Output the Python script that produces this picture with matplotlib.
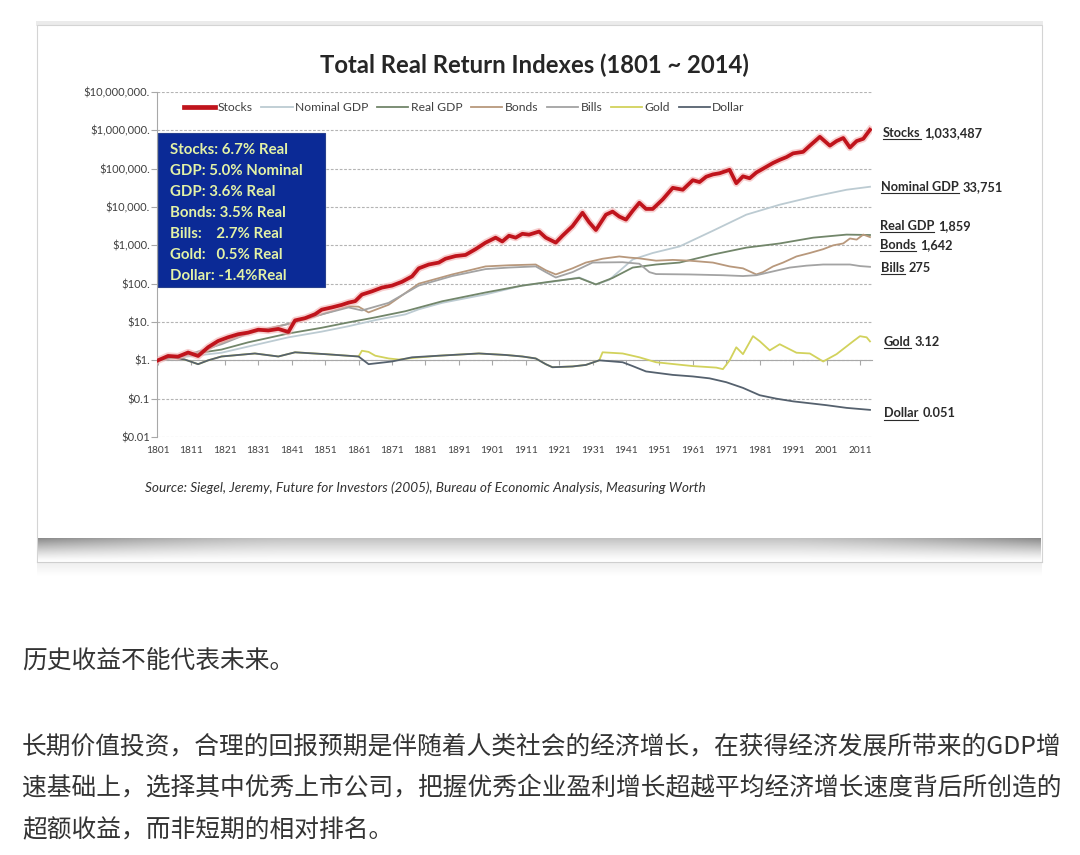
import numpy as np
import matplotlib
matplotlib.use('Agg')
import matplotlib.pyplot as plt
from matplotlib.patches import Rectangle
from matplotlib.lines import Line2D
import matplotlib.patheffects as pe
from matplotlib.ticker import NullLocator

W, H = 1080, 855

# ---------------- data ----------------
stocks_years = [1801, 1804, 1807, 1810, 1813, 1816, 1819, 1822, 1825, 1828, 1831, 1834, 1837, 1840,
                1842, 1845, 1848, 1850, 1853, 1856, 1858, 1860, 1862, 1865, 1868, 1871, 1874, 1877,
                1879, 1882, 1885, 1887, 1890, 1893, 1896, 1899, 1902, 1904, 1906, 1908, 1910, 1912,
                1915, 1917, 1920, 1922, 1925, 1928, 1930, 1932, 1935, 1937, 1939, 1941, 1943, 1945,
                1947, 1949, 1952, 1955, 1958, 1961, 1963, 1965, 1967, 1969, 1972, 1974, 1976, 1978,
                1980, 1983, 1985, 1987, 1989, 1991, 1994, 1996, 1999, 2002, 2004, 2006, 2008, 2010,
                2012, 2014]
stocks_values = [1.0, 1.3, 1.25, 1.6, 1.3, 2.2, 3.2, 4.0, 4.8, 5.3, 6.3, 6.0, 6.6, 5.5,
                 11, 12.6, 16, 21, 24, 28, 32, 35, 52, 63, 79, 89, 112, 155,
                 251, 316, 355, 447, 525, 562, 794, 1175, 1585, 1260, 1780, 1585, 2000, 1900,
                 2290, 1585, 1175, 1780, 3160, 7080, 3980, 2510, 6310, 7590, 5620, 4680, 7940, 12900,
                 8910, 8910, 15800, 31600, 28200, 50100, 44700, 61700, 70800, 75900, 93300, 41700, 63100, 56200,
                 79400, 112000, 141000, 170000, 200000, 251000, 275000, 398000, 676000, 398000, 525000, 631000, 355000, 525000,
                 603000, 1033487]

nominal_gdp_years = [1801, 1810, 1820, 1828, 1840, 1850, 1858, 1866, 1875, 1879, 1886, 1899, 1910,
                     1919, 1927, 1932, 1936, 1943, 1949, 1957, 1967, 1977, 1987, 1997, 2007, 2014]
nominal_gdp_values = [1, 1.26, 1.58, 2.29, 3.98, 5.62, 7.76, 11.2, 15.8, 21.4, 31.6, 52.5, 89.1,
                      112, 145, 95.5, 126, 427, 631, 933, 2400, 6310, 11500, 18600, 28200, 33751]

real_gdp_years = [1801, 1810, 1820, 1828, 1840, 1850, 1858, 1866, 1875, 1886, 1899, 1910, 1919,
                  1927, 1932, 1937, 1943, 1950, 1957, 1967, 1977, 1987, 1997, 2007, 2014]
real_gdp_values = [1, 1.41, 1.91, 2.95, 5.01, 7.08, 9.77, 13.2, 19.1, 34.7, 58.9, 89.1, 115,
                   141, 95.5, 141, 263, 316, 355, 575, 871, 1120, 1585, 1905, 1859]

bonds_years = [1801, 1805, 1810, 1815, 1820, 1828, 1835, 1840, 1850, 1858, 1861, 1864, 1870, 1879,
               1889, 1899, 1906, 1914, 1917, 1920, 1925, 1929, 1934, 1939, 1942, 1945, 1950, 1955,
               1960, 1967, 1972, 1976, 1980, 1982, 1985, 1988, 1992, 1996, 2000, 2003, 2006, 2008,
               2010, 2012, 2014]
bonds_values = [1, 1.26, 1.41, 1.78, 2.82, 5.25, 7.08, 8.91, 15.8, 25.7, 25.1, 17.8, 28.2, 100,
                174, 282, 302, 316, 224, 174, 251, 355, 447, 513, 479, 457, 398, 417,
                398, 355, 282, 251, 174, 200, 282, 355, 513, 631, 794, 1000, 1120, 1510,
                1410, 1905, 1642]

bills_years = [1801, 1810, 1820, 1828, 1840, 1850, 1858, 1862, 1870, 1879, 1889, 1899, 1906, 1914,
               1917, 1920, 1925, 1931, 1940, 1945, 1948, 1950, 1960, 1970, 1976, 1980, 1985, 1990,
               1995, 2000, 2005, 2008, 2011, 2014]
bills_values = [1, 1.41, 2.63, 5.01, 8.91, 15.8, 24.0, 20.0, 31.6, 89.1, 158, 240, 263, 282,
                200, 145, 200, 355, 363, 331, 200, 178, 174, 166, 158, 166, 209, 263,
                295, 316, 316, 316, 288, 275]

gold_years = [1801, 1805, 1809, 1813, 1816, 1820, 1830, 1837, 1842, 1851, 1861, 1862, 1864, 1866,
              1870, 1873, 1877, 1885, 1897, 1905, 1910, 1914, 1917, 1919, 1925, 1929, 1933, 1934,
              1940, 1945, 1950, 1961, 1968, 1970, 1972, 1974, 1976, 1979, 1981, 1984, 1987, 1992,
              1996, 2000, 2004, 2009, 2011, 2013, 2014]
gold_values = [1, 1.2, 1.05, 0.794, 1.0, 1.26, 1.51, 1.26, 1.62, 1.45, 1.26, 1.78, 1.66, 1.32,
               1.12, 1.05, 1.15, 1.32, 1.51, 1.38, 1.26, 1.12, 0.794, 0.661, 0.692, 0.759, 1.0, 1.62,
               1.51, 1.2, 0.891, 0.708, 0.646, 0.589, 1.0, 2.19, 1.45, 4.27, 3.16, 1.82, 2.63, 1.58,
               1.51, 0.933, 1.45, 3.16, 4.27, 3.98, 3.12]

dollar_years = [1801, 1805, 1809, 1813, 1816, 1820, 1830, 1837, 1842, 1851, 1861, 1864, 1871, 1877,
                1885, 1897, 1905, 1910, 1914, 1917, 1919, 1925, 1929, 1933, 1940, 1943, 1947, 1955,
                1961, 1966, 1971, 1976, 1981, 1986, 1991, 1996, 2001, 2007, 2014]
dollar_values = [1, 1.2, 1.05, 0.794, 1.0, 1.26, 1.51, 1.26, 1.62, 1.45, 1.26, 0.794, 0.933, 1.2,
                 1.32, 1.51, 1.38, 1.26, 1.12, 0.794, 0.661, 0.692, 0.759, 1.0, 0.891, 0.708, 0.513, 0.417,
                 0.380, 0.339, 0.269, 0.191, 0.123, 0.100, 0.0851, 0.0759, 0.0676, 0.0575, 0.051]

series_names = ['Stocks', 'Nominal GDP', 'Real GDP', 'Bonds', 'Bills', 'Gold', 'Dollar']
end_labels = ['1,033,487', '33,751', '1,859', '1,642', '275', '3.12', '0.051']
box_lines = ['Stocks: 6.7% Real', 'GDP: 5.0% Nominal', 'GDP: 3.6% Real', 'Bonds: 3.5% Real',
             'Bills:    2.7% Real', 'Gold:   0.5% Real', 'Dollar: -1.4%Real']
ytick_values = [0.01, 0.1, 1, 10, 100, 1000, 1e4, 1e5, 1e6, 1e7]
ytick_labels = ['$0.01', '$0.1', '$1.', '$10.', '$100.', '$1,000.', '$10,000.', '$100,000.',
                '$1,000,000.', '$10,000,000.']
xtick_years = list(range(1801, 2012, 10))

title = 'Total Real Return Indexes (1801 ~ 2014)'
source = 'Source: Siegel, Jeremy, Future for Investors (2005), Bureau of Economic Analysis, Measuring Worth'
cn_line1 = '历史收益不能代表未来。'
cn_para = ['长期价值投资，合理的回报预期是伴随着人类社会的经济增长，在获得经济发展所带来的GDP增',
           '速基础上，选择其中优秀上市公司，把握优秀企业盈利增长超越平均经济增长速度背后所创造的',
           '超额收益，而非短期的相对排名。']

# ---------------- styling ----------------
plt.rcParams['font.family'] = ['Lato', 'DejaVu Sans']
colors = {'Stocks': '#c0141c', 'Nominal GDP': '#bccbd2', 'Real GDP': '#72866a',
          'Bonds': '#b8987c', 'Bills': '#a3a3a3', 'Gold': '#d2d25c', 'Dollar': '#55616e'}

def fx(px):
    return px / W

def fy(py):
    return 1 - py / H

fig = plt.figure(figsize=(W / 100, H / 100), dpi=100)
fig.patch.set_facecolor('white')

# card / screenshot frame (background layer)
bg = fig.add_axes([0, 0, 1, 1], zorder=-10)
bg.set_xlim(0, W)
bg.set_ylim(H, 0)
bg.axis('off')
bg.add_patch(Rectangle((36, 21), 1007, 5, facecolor='#ebebeb', edgecolor='none'))
bg.add_patch(Rectangle((37, 25), 1005, 537, facecolor='white', edgecolor='#d4d4d4', lw=0.8))
t = np.linspace(0, 1, 40)[:, None]
s = np.linspace(0, 1, 400)[None, :]
edge = np.clip(1 - np.minimum(s, 1 - s) / 0.25, 0, 1) ** 1.5
dark = (1 - t) ** 1.3 * (0.24 + 0.22 * edge)
band = 1 - dark
bg.imshow(np.dstack([band, band, band]), extent=(38, 1041, 562, 538), aspect='auto',
          interpolation='bilinear', zorder=1)
bg.plot([37, 1042], [562, 562], color='#cfcfcf', lw=0.8, zorder=2)
t2 = np.linspace(0, 1, 20)[:, None]
band2 = 1 - 0.06 * (1 - t2) * np.ones_like(s)
bg.imshow(np.dstack([band2, band2, band2]), extent=(37, 1042, 576, 563), aspect='auto',
          interpolation='bilinear', zorder=1)

# main chart axes
ax = fig.add_axes([fx(157), fy(437), (872 - 157) / W, (437 - 92) / H], zorder=0)
ax.set_facecolor('none')
ax.set_yscale('log')
ax.set_ylim(0.01, 1e7)
ax.set_xlim(1800.7, 2014.6)

data = {
    'Stocks': (stocks_years, stocks_values),
    'Nominal GDP': (nominal_gdp_years, nominal_gdp_values),
    'Real GDP': (real_gdp_years, real_gdp_values),
    'Bonds': (bonds_years, bonds_values),
    'Bills': (bills_years, bills_values),
    'Gold': (gold_years, gold_values),
    'Dollar': (dollar_years, dollar_values),
}
for i, name in enumerate(series_names):
    xs, ys = data[name]
    if name == 'Stocks':
        ax.plot(xs, ys, color=colors[name], lw=2.7, zorder=10, label=name, solid_joinstyle='round',
                path_effects=[pe.Stroke(linewidth=5.2, foreground='#f2b0b0', alpha=0.6), pe.Normal()])
    else:
        ax.plot(xs, ys, color=colors[name], lw=1.3, zorder=3 + i, label=name)

ax.set_yticks(ytick_values)
ax.set_yticklabels(ytick_labels)
ax.yaxis.set_minor_locator(NullLocator())
ax.xaxis.set_minor_locator(NullLocator())
ax.set_xticks(xtick_years)
ax.set_xticklabels([str(y) for y in xtick_years])
ax.grid(axis='y', which='major', linestyle=(0, (2.5, 1.5)), color='#b4b4b4', lw=0.8, zorder=0)
for sp in ['top', 'right']:
    ax.spines[sp].set_visible(False)
ax.spines['left'].set_color('#a8a8a8')
ax.spines['bottom'].set_position(('data', 1))
ax.spines['bottom'].set_color('#a8a8a8')
ax.spines['bottom'].set_zorder(2)
ax.tick_params(axis='y', direction='out', length=4, color='#a8a8a8', labelsize=8, labelcolor='#404040', pad=1)
ax.tick_params(axis='x', direction='out', length=3.5, color='#a8a8a8', labelsize=7.3, labelcolor='#404040', pad=58)

leg_handles = [Line2D([], [], color=colors[n], lw=(3.4 if n == 'Stocks' else 1.3)) for n in series_names]
ax.legend(leg_handles, series_names, loc='center', bbox_to_anchor=(0.43, 0.954), ncol=7, frameon=False,
          fontsize=8.7, handlelength=2.6, handletextpad=0.2, columnspacing=0.7, labelcolor='#404040')

# overlay layer for box and labels
ov = fig.add_axes([0, 0, 1, 1], zorder=5)
ov.set_xlim(0, W)
ov.set_ylim(H, 0)
ov.axis('off')
ov.patch.set_alpha(0)

ov.add_patch(Rectangle((158, 133), 167, 154, facecolor='#0b2a96', edgecolor='#27408e', lw=0.8, zorder=20))
for k, line in enumerate(box_lines):
    ov.text(170, 150 + k * 21, line, color='#e3f2a6', fontsize=10.8, fontweight='bold', va='center',
            ha='left', zorder=21)

fig.text(fx(534), fy(65), title, ha='center', va='center', fontsize=17.2, fontweight='bold', color='#262626')
fig.text(fx(145), fy(488), source, ha='left', va='center', fontsize=9.8, style='italic', color='#333333')

label_pos = {'Stocks': (883, 133), 'Nominal GDP': (881, 187), 'Real GDP': (880, 226), 'Bonds': (880, 245),
             'Bills': (881, 268), 'Gold': (884, 342), 'Dollar': (884, 413)}
fig.canvas.draw()
renderer = fig.canvas.get_renderer()
inv = ov.transData.inverted()
for name, val in zip(series_names, end_labels):
    px, py = label_pos[name]
    t1 = ov.text(px, py, name, fontsize=9.2, fontweight='bold', color='#2a2a2a', va='center', ha='left')
    bb = t1.get_window_extent(renderer)
    (xr, _), = inv.transform([(bb.x1, 0)])
    ov.plot([px, xr], [py + 6.5, py + 6.5], color='#2a2a2a', lw=0.8)
    ov.text(xr + 4, py, val, fontsize=9.2, fontweight='bold', color='#2a2a2a', va='center', ha='left')

cn_font = ['Noto Sans CJK SC', 'DejaVu Sans']
fig.text(fx(22), fy(661), cn_line1, family=cn_font, fontsize=17.8, color='#333333', ha='left', va='center')
for k, line in enumerate(cn_para):
    fig.text(fx(22), fy(746 + k * 42), line, family=cn_font, fontsize=17.8, color='#333333', ha='left', va='center')

fig.savefig('out.png', dpi=100, facecolor='white')
